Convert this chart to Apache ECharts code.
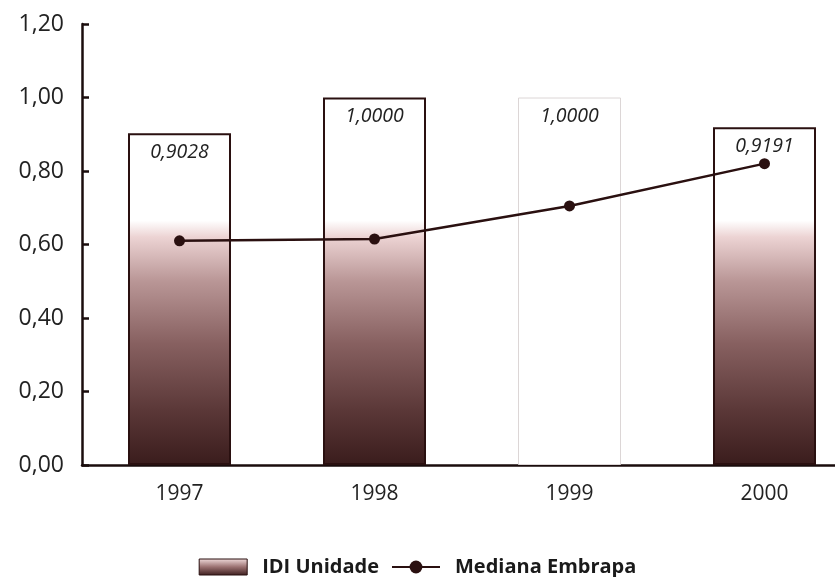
<!DOCTYPE html>
<html>
<head>
<meta charset="utf-8">
<script src="https://cdn.jsdelivr.net/npm/echarts@6/dist/echarts.min.js"></script>
<style>html,body{margin:0;padding:0;background:#fff}#c{width:835px;height:577px}</style>
</head>
<body>
<div id="c"></div>
<script>
var categories = ['1997', '1998', '1999', '2000'];
var idiUnidade = [0.9028, 1.0000, 1.0000, 0.9191];
var medianaEmbrapa = [0.61, 0.615, 0.705, 0.82];
var seriesNames = ['IDI Unidade', 'Mediana Embrapa'];
var faintIndex = 2; // 1999 bar drawn as pale outline only

function fmt(v) { return v.toFixed(4).replace('.', ','); }

// gradient stops defined on absolute value levels
var gradLevels = [[0.665, '#ffffff'], [0.62, '#ecd3d3'], [0.5, '#b99696'], [0.33, '#876060'], [0.15, '#5b3838'], [0, '#3a1c1c']];
function barGradient(v) {
  var stops = [{offset: 0, color: '#ffffff'}];
  gradLevels.forEach(function (g) {
    var off = (v - g[0]) / v;
    if (off >= 0 && off <= 1) stops.push({offset: off, color: g[1]});
  });
  return new echarts.graphic.LinearGradient(0, 0, 0, 1, stops);
}

var barData = idiUnidade.map(function (v, i) {
  if (i === faintIndex) {
    return {value: v, itemStyle: {color: '#ffffff', borderColor: '#dcd6d6', borderWidth: 1}};
  }
  return {value: v, itemStyle: {color: barGradient(v), borderColor: '#2a1010', borderWidth: 2}};
});

var chart = echarts.init(document.getElementById('c'), null, {renderer: 'canvas'});
chart.setOption({
  animation: false,
  backgroundColor: '#ffffff',
  grid: {left: 82, top: 24, width: 780, height: 441, outerBoundsMode: 'none', containLabel: false},
  legend: {
    top: 552, left: 'center', itemWidth: 48, itemHeight: 16, itemGap: 12,
    textStyle: {fontFamily: 'Open Sans', fontWeight: 'bold', fontSize: 20, color: '#1a1a1a', padding: [0, 0, 0, 10]},
    data: [
      {name: seriesNames[0], icon: 'rect', itemStyle: {color: new echarts.graphic.LinearGradient(0, 0, 0, 1, [{offset: 0, color: '#f3dede'}, {offset: 0.5, color: '#9a7070'}, {offset: 1, color: '#3a1c1c'}]), borderColor: '#2a1010', borderWidth: 1}},
      {name: seriesNames[1]}
    ]
  },
  xAxis: {
    type: 'category', data: categories,
    axisLine: {lineStyle: {color: '#1a0c0c', width: 2.5}},
    axisTick: {show: false},
    axisLabel: {fontFamily: 'Open Sans', fontSize: 21, color: '#222', margin: 19}
  },
  yAxis: {
    type: 'value', min: 0, max: 1.2, interval: 0.2,
    axisLine: {show: true, lineStyle: {color: '#1a0c0c', width: 2.5}},
    axisTick: {show: true, inside: true, length: 7, lineStyle: {color: '#1a0c0c', width: 2.5}},
    splitLine: {show: false},
    axisLabel: {fontFamily: 'Open Sans', fontSize: 23, color: '#222', margin: 18,
      formatter: function (v) { return v.toFixed(2).replace('.', ','); }}
  },
  series: [
    {
      name: seriesNames[0], type: 'bar', data: barData, barWidth: 103,
      label: {show: true, position: 'insideTop', distance: 9, fontFamily: 'Open Sans', fontStyle: 'italic', fontSize: 19.5, color: '#222',
        formatter: function (p) { return fmt(p.value); }}
    },
    {
      name: seriesNames[1], type: 'line', data: medianaEmbrapa,
      symbol: 'circle', symbolSize: 11,
      lineStyle: {color: '#2a1010', width: 2.5},
      itemStyle: {color: '#2a1010'}
    }
  ]
});
</script>
</body>
</html>
